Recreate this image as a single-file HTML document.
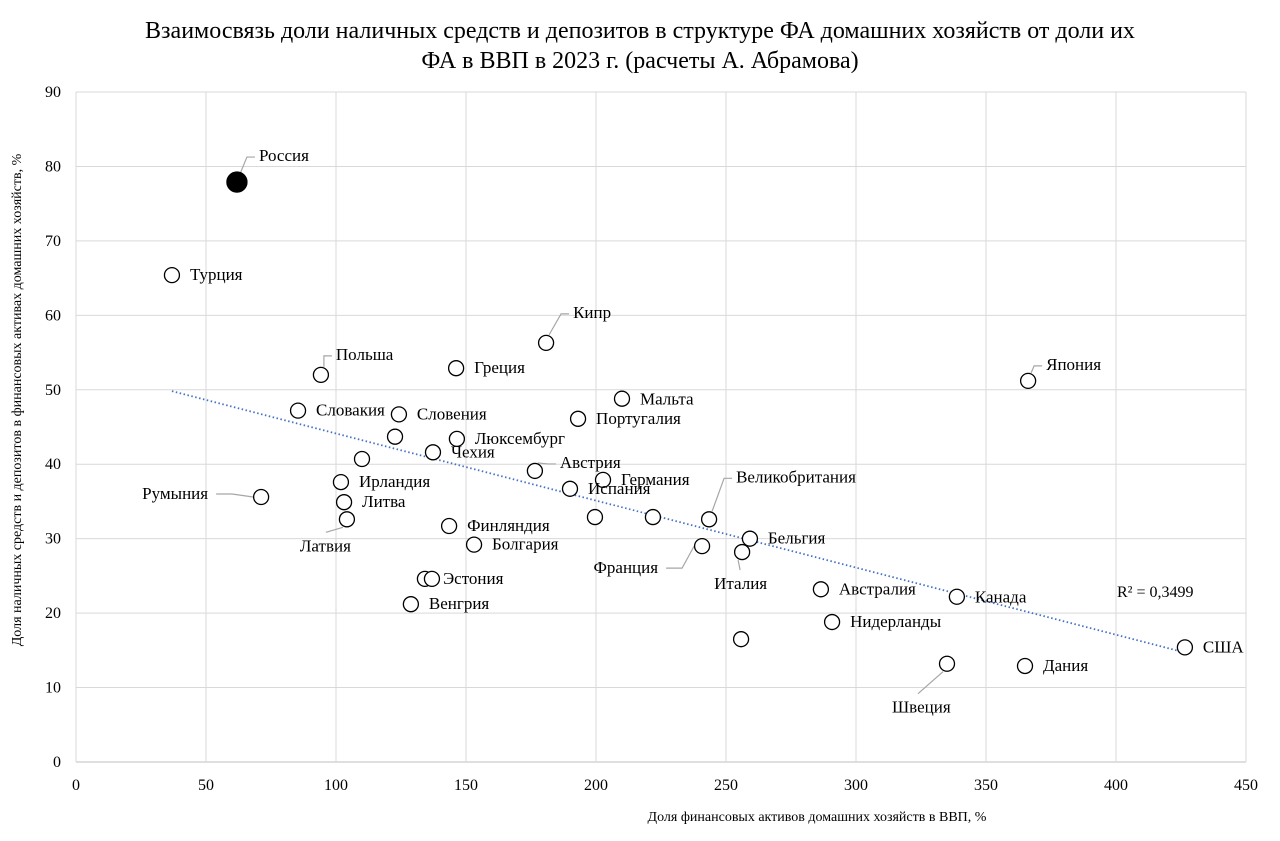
<!DOCTYPE html>
<html><head><meta charset="utf-8">
<style>
body{margin:0;background:#fff;}
svg text{font-family:"Liberation Serif",serif;fill:#000;}
</style></head>
<body>
<svg id="chart" width="1280" height="836" xmlns="http://www.w3.org/2000/svg">
<rect width="1280" height="836" fill="#fff"/>
<text x="640" y="38" text-anchor="middle" font-size="24">Взаимосвязь доли наличных средств и депозитов в структуре ФА домашних хозяйств от доли их</text>
<text x="640" y="68" text-anchor="middle" font-size="24">ФА в ВВП в 2023 г. (расчеты А. Абрамова)</text>
<g id="grid"></g><g id="axes"></g><g id="trend"></g><g id="marks"></g>
<text transform="translate(21,400) rotate(-90)" text-anchor="middle" font-size="14">Доля наличных средств и депозитов в финансовых активах домашних хозяйств, %</text>
<text x="817" y="821" text-anchor="middle" font-size="14">Доля финансовых активов домашних хозяйств в ВВП, %</text>
<text x="1117" y="597" font-size="16">R² = 0,3499</text>
</svg>
<script>
const names=["Россия","Турция","Кипр","Польша","Греция","Япония","Мальта","Словакия","Словения","Португалия","","Люксембург","Чехия","","Австрия","Германия","Ирландия","Испания","Румыния","Литва","Латвия","","","Великобритания","Финляндия","Бельгия","Болгария","Франция","Италия","","Эстония","Австралия","Канада","Венгрия","Нидерланды","","США","Швеция","Дания"];
const xVals=[61.9,36.9,180.8,94.2,146.2,366.2,210,85.4,124.2,193.1,122.7,146.5,137.3,110,176.5,202.7,101.9,190,71.2,103.1,104.2,199.6,221.9,243.5,143.5,259.2,153.1,240.8,256.2,134.2,136.9,286.5,338.8,128.8,290.8,255.8,426.5,335,365];
const yVals=[77.9,65.4,56.3,52.0,52.9,51.2,48.8,47.2,46.7,46.1,43.7,43.4,41.6,40.7,39.1,37.9,37.6,36.7,35.6,34.9,32.6,32.9,32.9,32.6,31.7,30.0,29.2,29.0,28.2,24.6,24.6,23.2,22.2,21.2,18.8,16.5,15.4,13.2,12.9];
const xTicks=[0,50,100,150,200,250,300,350,400,450];
const yTicks=[0,10,20,30,40,50,60,70,80,90];
// label placement (styling): dx,dy,anchor,leader
const lab={"Россия":[22,-26,"start",1],"Кипр":[27,-30,"start",1],"Польша":[15,-20,"start",1],"Япония":[18,-16,"start",1],"Австрия":[25,-8,"start",1],"Румыния":[-53,-3,"end",1],"Латвия":[-47,27,"start",1],"Великобритания":[27,-42,"start",1],"Франция":[-44,22,"end",1],"Италия":[-28,32,"start",1],"Эстония":[11,0,"start",0],"Швеция":[-55,44,"start",1],"Канада":[18,1,"start",0],"Мальта":[18,1,"start",0]};
const X0=76,X1=1246,Y0=762,Y1=92;
const sx=v=>X0+(v-0)/450*(X1-X0), sy=v=>Y0-(v-0)/90*(Y0-Y1);
const NS="http://www.w3.org/2000/svg";
function mk(t,a,p){const e=document.createElementNS(NS,t);for(const k in a)e.setAttribute(k,a[k]);p.appendChild(e);return e;}
const grid=document.getElementById('grid'),axes=document.getElementById('axes'),marks=document.getElementById('marks'),trend=document.getElementById('trend');
yTicks.forEach(t=>{const l=mk('line',{x1:X0,x2:X1,y1:sy(t),y2:sy(t),stroke:t==0?'#bfbfbf':'#d9d9d9','stroke-width':1},grid);

const tx=mk('text',{x:X0-15,y:sy(t)+5,'text-anchor':'end','font-size':16},axes);tx.textContent=t;
});
xTicks.forEach(t=>{const l=mk('line',{x1:sx(t),x2:sx(t),y1:Y1,y2:Y0,stroke:'#d9d9d9','stroke-width':1},grid);

const tx=mk('text',{x:sx(t),y:Y0+28,'text-anchor':'middle','font-size':16},axes);tx.textContent=t;
});
// regression
let n=xVals.length,mx=0,my=0;xVals.forEach((v,i)=>{mx+=v;my+=yVals[i];});mx/=n;my/=n;
let sxy=0,sxx=0;xVals.forEach((v,i)=>{sxy+=(v-mx)*(yVals[i]-my);sxx+=(v-mx)*(v-mx);});
const b=sxy/sxx,a=my-b*mx,xmin=Math.min(...xVals),xmax=Math.max(...xVals);
const tl=mk('line',{x1:sx(xmin),y1:sy(a+b*xmin),x2:sx(xmax),y2:sy(a+b*xmax),stroke:'#4472c4','stroke-width':1.8,'stroke-dasharray':'1.5 2.5'},trend);

xVals.forEach((v,i)=>{const px=sx(v),py=sy(yVals[i]),nm=names[i];
const L=lab[nm]||[18,0,"start",0];
if(nm&&L[3]){const tx=px+L[0],ty=py+L[1];let pts;
if(L[2]=="end"){pts=`${px-8},${py} ${tx+24},${ty} ${tx+8},${ty}`;}
else if(L[1]>15){pts=`${px-4},${py+8} ${tx+26},${ty-14}`;}
else{pts=`${px+3},${py-8} ${tx-12},${ty+1} ${tx-4},${ty+1}`;}
const pl=mk('polyline',{points:pts,fill:'none',stroke:'#a6a6a6','stroke-width':1.2},marks);
}
const c=mk('circle',{cx:px,cy:py,r:i==0?10:7.5,fill:i==0?'#000':'#fff',stroke:'#000','stroke-width':1.3},marks);

if(nm){const t=mk('text',{x:px+L[0],y:py+L[1]+5,'text-anchor':L[2],'font-size':17},marks);t.textContent=nm;
}});
</script>
</body></html>
